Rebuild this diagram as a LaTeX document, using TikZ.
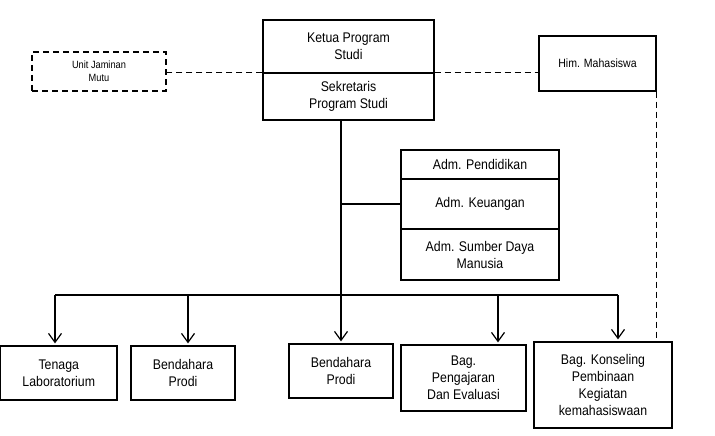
\documentclass[tikz,border=0pt]{standalone}
\usepackage{fontspec}
\setmainfont{Liberation Sans}[FakeStretch=0.88]
\usetikzlibrary{arrows.meta,positioning}

\begin{document}
\begin{tikzpicture}[x=1pt, y=-1pt, line width=1.2pt,
  every node/.style={align=center, font=\fontsize{14}{17}\selectfont},
  box/.style={draw, rectangle, inner sep=0pt},
  dline/.style={dash pattern=on 6pt off 4pt},
  arr/.style={-{Straight Barb[length=9pt,width=13pt]}, shorten >=2pt}]
\useasboundingbox (0,0) rectangle (715,436);

% pimpinan
\node[box, minimum width=171pt, minimum height=53pt] (ketua) at (348.5,46.5) {Ketua Program\\Studi};
\node[box, minimum width=171pt, minimum height=47pt] (sekr) at (348.5,96.5) {Sekretaris\\Program Studi};
\node[box, dline, line width=1.6pt, minimum width=134pt, minimum height=39pt, font=\fontsize{10.5}{13}\selectfont] (ujm) at (99,71.5) {Unit Jaminan\\Mutu};
\node[box, minimum width=117pt, minimum height=55pt, font=\fontsize{12}{15}\selectfont] (him) at (597.5,63.5) {Him. Mahasiswa};

% administrasi
\node[box, minimum width=158pt, minimum height=29pt] (admP) at (480,164.5) {Adm. Pendidikan};
\node[box, line width=1.9pt, minimum width=158pt, minimum height=50pt] (admK) at (480,204) {Adm. Keuangan};
\node[box, minimum width=158pt, minimum height=51pt] (admS) at (480,254.5) {Adm. Sumber Daya\\Manusia};

% bagian bawah
\node[box, minimum width=116.5pt, minimum height=54pt] (tenaga) at (58.75,373) {Tenaga\\Laboratorium};
\node[box, minimum width=104pt, minimum height=54pt] (bend1) at (183,373) {Bendahara\\Prodi};
\node[box, minimum width=104pt, minimum height=54pt] (bend2) at (341,371) {Bendahara\\Prodi};
\node[box, minimum width=125pt, minimum height=66pt] (bagP) at (463.5,378) {Bag.\\Pengajaran\\Dan Evaluasi};
\node[box, minimum width=138pt, minimum height=86pt] (bagK) at (603,385) {Bag. Konseling\\Pembinaan\\Kegiatan\\kemahasiswaan};

% titik cabang
\coordinate (b1) at (55,295);
\coordinate (b2) at (188,295);
\coordinate (b3) at (341,295);
\coordinate (b4) at (498,295);
\coordinate (b5) at (618,295);

% garis koordinasi
\draw[dline] (sekr.north west) -- (sekr.north west -| ujm.east);
\draw[dline] (sekr.north east) -- (sekr.north east -| him.west);
\draw[dline] (him.south east) -- (him.south east |- bagK.north);

% garis komando
\draw[arr] (sekr.south -| bend2) -- (bend2);
\draw (admK.west) -- (admK.west -| bend2);
\draw (b1) -- (b5);
\draw[arr] (b1) -- (b1 |- tenaga.north);
\draw[arr] (b2) -- (b2 |- bend1.north);
\draw[arr] (b4) -- (b4 |- bagP.north);
\draw[arr] (b5) -- (b5 |- bagK.north);
\end{tikzpicture}
\end{document}
